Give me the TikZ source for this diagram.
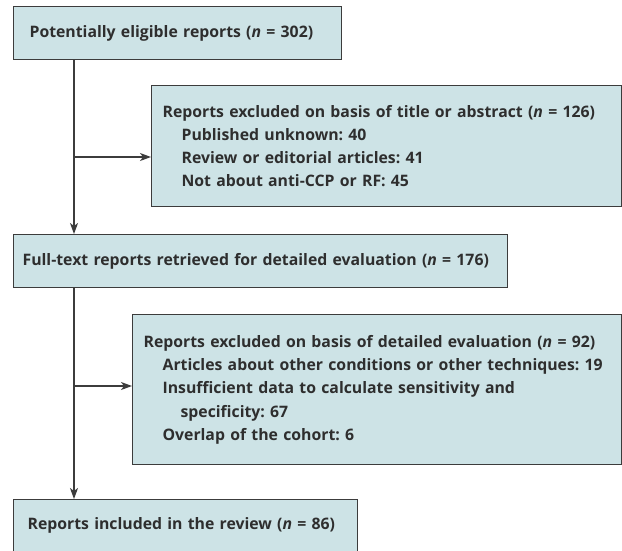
\documentclass[tikz,border=0pt]{standalone}
\usepackage{fontspec}
\setsansfont{Open Sans}
\usepackage{tikz}
\usetikzlibrary{arrows.meta, positioning}
\definecolor{boxfill}{HTML}{CDE3E6}
\definecolor{boxline}{HTML}{3C3C3C}
\definecolor{inktext}{HTML}{2E2E2E}
\tikzstyle{arrow} = [line width=1.2pt,boxline,->,>={Stealth[length=11pt,width=8pt,inset=3pt]}]
\tikzstyle{box} = [draw=boxline, line width=1.2pt, fill=boxfill, anchor=north west,
    inner xsep=11pt, inner ysep=0pt, align=left, text=inktext,
    font=\sffamily\bfseries\fontsize{15.8}{23.3}\selectfont]
\frenchspacing

\begin{document}
\begin{tikzpicture}[x=1pt,y=-1pt]
\useasboundingbox (0,0) rectangle (622,550);

\node[box, text width=296pt, minimum height=53pt, inner xsep=16pt] (found) at (13,6)
    {\mbox{Potentially eligible reports (\textit{n} = 302)}};
\node[box, text width=448pt, minimum height=121pt] (excl1) at (151,85)
    {\mbox{Reports excluded on basis of title or abstract (\textit{n} = 126)}\\
     \hspace*{19pt}Published unknown: 40\\
     \hspace*{19pt}Review or editorial articles: 41\\
     \hspace*{19pt}Not about anti-CCP or RF: 45};
\node[box, text width=476pt, minimum height=53pt, inner xsep=9pt] (full) at (13,234)
    {\mbox{Full-text reports retrieved for detailed evaluation (\textit{n} = 176)}};
\node[box, text width=467pt, minimum height=150pt] (excl2) at (132,314)
    {\mbox{Reports excluded on basis of detailed evaluation (\textit{n} = 92)}\\
     \hspace*{19pt}\mbox{Articles about other conditions or other techniques: 19}\\
     \hspace*{19pt}Insufficient data to calculate sensitivity and\\
     \hspace*{37pt}specificity: 67\\
     \hspace*{19pt}Overlap of the cohort: 6};
\node[box, text width=316pt, minimum height=52pt, inner xsep=14pt] (incl) at (13,499)
    {Reports included in the review (\textit{n} = 86)};

% junctions on the main line
\coordinate (j1) at (74,157);
\coordinate (j2) at (74,386);

\draw[arrow] (found.south -| j1) -- (full.north -| j1);
\draw[arrow] (j1) -- (j1 -| excl1.west);
\draw[arrow] (full.south -| j2) -- (incl.north -| j2);
\draw[arrow] (j2) -- (j2 -| excl2.west);
\end{tikzpicture}
\end{document}
